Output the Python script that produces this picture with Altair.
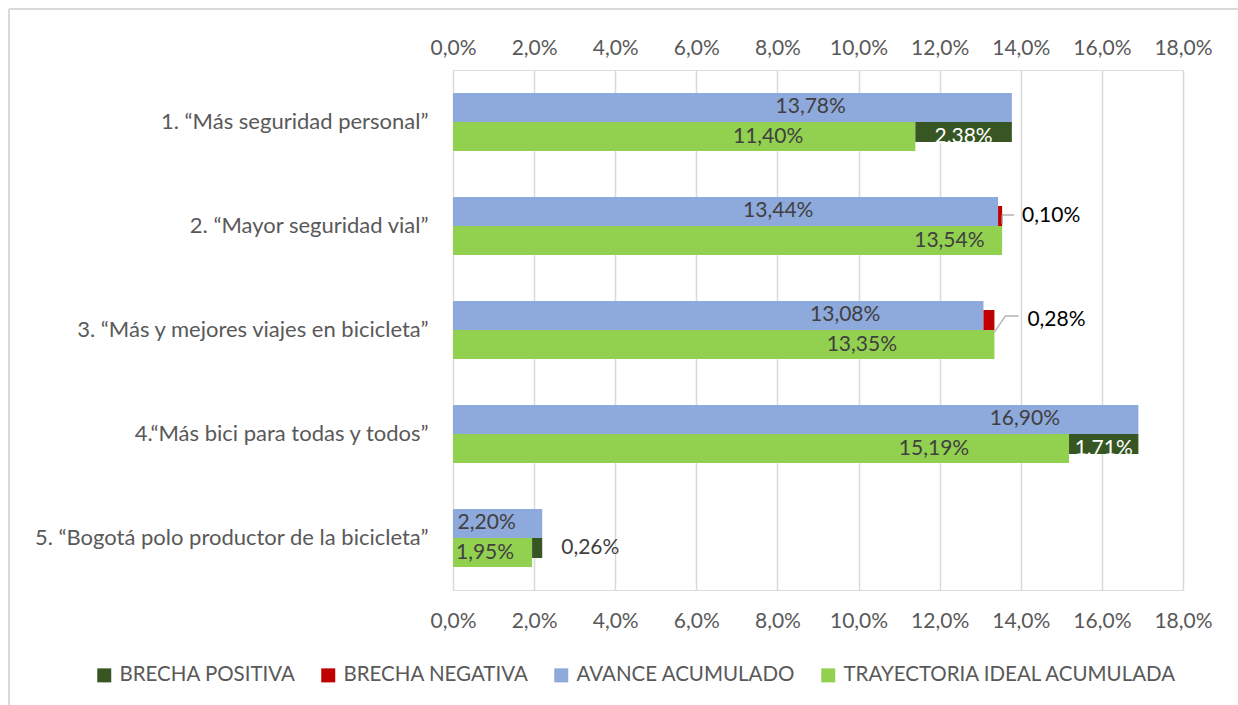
import altair as alt
import numpy as np
import pandas as pd

# ---------------- data ----------------
categorias = [
    "1. “Más seguridad personal”",
    "2. “Mayor seguridad vial”",
    "3. “Más y mejores viajes en bicicleta”",
    "4.“Más bici para todas y todos”",
    "5. “Bogotá polo productor de la bicicleta”",
]
avance = [13.78, 13.44, 13.08, 16.90, 2.20]
ideal = [11.40, 13.54, 13.35, 15.19, 1.95]
brecha = [2.38, -0.10, -0.28, 1.71, 0.26]
# where the value labels of the two bars sit (in % units)
avance_label_x = [8.82, 8.02, 9.67, 14.10, 0.83]
ideal_label_x = [7.77, 12.24, 10.08, 11.86, 0.79]

series = ["BRECHA POSITIVA", "BRECHA NEGATIVA", "AVANCE ACUMULADO", "TRAYECTORIA IDEAL ACUMULADA"]
colores = ["#375623", "#C00000", "#8EA9DB", "#92D050"]
x_ticks = [0, 2, 4, 6, 8, 10, 12, 14, 16, 18]

FONT = "Lato"
AXIS_GRAY = "#595959"
LABEL_GRAY = "#404040"
TXT = 21


def pct(v):
    return f"{abs(v):.2f}".replace(".", ",") + "%"


AV, ID = series[2], series[3]
bars = pd.DataFrame({
    "cat": categorias * 2,
    "serie": [AV] * 5 + [ID] * 5,
    "valor": avance + ideal,
    "lx": avance_label_x + ideal_label_x,
})
bars["txt"] = bars["valor"].map(pct)

gap = pd.DataFrame({"cat": categorias, "a": avance, "i": ideal, "b": brecha})
gap["ini"] = gap[["a", "i"]].min(axis=1)
gap["fin"] = gap[["a", "i"]].max(axis=1)
gap["serie"] = np.where(gap["b"] > 0, series[0], series[1])
gap["slot"] = np.where(gap["b"] > 0, "POS", "NEG")
gap["txt"] = gap["b"].map(pct)
gap["mid"] = (gap["ini"] + gap["fin"]) / 2
gap["serie_bar"] = ID

# ---------------- scales / axes ----------------
x_scale = alt.Scale(domain=[0, 18], nice=False, zero=True)
y_scale = alt.Scale(domain=categorias, paddingInner=0.442, paddingOuter=0.221)
# bar sub-bands (bars) and their centres (texts)
off_bar = alt.Scale(type="band", domain=[AV, ID], paddingInner=0, paddingOuter=0)
off_bar_pt = alt.Scale(type="point", domain=[AV, ID], padding=0.5)
# thinner gap bars sitting on each side of the border between both bars
off_gap = alt.Scale(type="band", domain=["NEG", "POS"], paddingInner=0, paddingOuter=0.45)
off_gap_pt = alt.Scale(type="point", domain=["NEG", "POS"], padding=0.95)
color_scale = alt.Scale(domain=series, range=colores)

lab_expr = "replace(format(datum.value, '.1f'), '.', ',') + '%'"
top_axis = alt.Axis(orient="top", values=x_ticks, labelExpr=lab_expr, grid=True,
                    gridColor="#D9D9D9", gridWidth=1.5, domain=False, ticks=False,
                    labelFontSize=21, labelColor=AXIS_GRAY, labelFont=FONT,
                    labelPadding=12, labelFlush=False, labelOverlap=False, title=None)
bottom_axis = alt.Axis(orient="bottom", values=x_ticks, labelExpr=lab_expr, grid=False,
                       domain=False, ticks=False, labelFontSize=21, labelColor=AXIS_GRAY,
                       labelFont=FONT, labelPadding=20, labelFlush=False,
                       labelOverlap=False, title=None)
y_axis = alt.Axis(domain=False, ticks=False, labelFontSize=22, labelColor=AXIS_GRAY,
                  labelFont=FONT, labelPadding=25, labelLimit=0, title=None)

legend = alt.Legend(orient="none", legendX=-359, legendY=595, direction="horizontal",
                    title=None, symbolType="square", symbolSize=196, symbolStrokeWidth=0,
                    labelFontSize=20.5, labelFont=FONT, labelColor=AXIS_GRAY,
                    labelOffset=5, columnPadding=22, padding=0, labelLimit=0)

Y = alt.Y("cat:N", scale=y_scale, sort=categorias, axis=y_axis)


def X(field):
    return alt.X(field, scale=x_scale, axis=None)


# ---------------- layers ----------------
main_bars = alt.Chart(bars).mark_bar().encode(
    x=alt.X("valor:Q", scale=x_scale, axis=top_axis),
    y=Y,
    yOffset=alt.YOffset("serie:N", scale=off_bar),
    color=alt.Color("serie:N", scale=color_scale, legend=legend),
)

gap_bars = alt.Chart(gap).mark_bar().encode(
    x=alt.X("ini:Q", scale=x_scale, axis=bottom_axis),
    x2="fin:Q",
    y=Y,
    yOffset=alt.YOffset("slot:N", scale=off_gap),
    color=alt.Color("serie:N", scale=color_scale, legend=legend),
)

bar_labels = alt.Chart(bars).mark_text(font=FONT, fontSize=TXT, color=LABEL_GRAY).encode(
    x=X("lx:Q"),
    y=Y,
    yOffset=alt.YOffset("serie:N", scale=off_bar_pt),
    text="txt:N",
)

inside_gap_labels = alt.Chart(gap).transform_filter("datum.b > 1").mark_text(
    font=FONT, fontSize=TXT, color="white").encode(
    x=X("mid:Q"),
    y=Y,
    yOffset=alt.YOffset("serie_bar:N", scale=off_bar_pt),
    text="txt:N",
)

outside_pos = alt.Chart(gap).transform_filter("datum.b > 0 && datum.b < 1").mark_text(
    font=FONT, fontSize=TXT, color=LABEL_GRAY, align="left", dx=19).encode(
    x=X("fin:Q"),
    y=Y,
    yOffset=alt.YOffset("slot:N", scale=off_gap_pt),
    text="txt:N",
)

neg2 = alt.Chart(gap).transform_filter(f"datum.cat == '{categorias[1]}'")
neg3 = alt.Chart(gap).transform_filter(f"datum.cat == '{categorias[2]}'")

lbl2 = neg2.mark_text(font=FONT, fontSize=TXT, color="black", align="left", dx=20).encode(
    x=X("fin:Q"), y=Y,
    yOffset=alt.YOffset("slot:N", scale=off_gap_pt), text="txt:N")
lbl3 = neg3.mark_text(font=FONT, fontSize=TXT, color="black", align="left", dx=33).encode(
    x=X("fin:Q"), y=Y,
    yOffset=alt.YOffset("slot:N", scale=off_gap_pt), text="txt:N")

LEAD = dict(color="#A6A6A6", strokeWidth=1.3)
lead2a = neg2.mark_rule(yOffset=-11, y2Offset=-2, **LEAD).encode(
    x=X("fin:Q"), x2="fin:Q", y=Y, y2="cat:N")
lead2b = neg2.mark_rule(x2Offset=12, yOffset=-11, y2Offset=-11, **LEAD).encode(
    x=X("fin:Q"), x2="fin:Q", y=Y, y2="cat:N")
lead3a = neg3.mark_rule(x2Offset=11, yOffset=2, y2Offset=-14, **LEAD).encode(
    x=X("fin:Q"), x2="fin:Q", y=Y, y2="cat:N")
lead3b = neg3.mark_rule(xOffset=11, x2Offset=24, yOffset=-14, y2Offset=-14, **LEAD).encode(
    x=X("fin:Q"), x2="fin:Q", y=Y, y2="cat:N")

# outer frame (top and left edges visible in the reference)
frame_top = alt.Chart(gap).mark_rule(color="#D9D9D9", strokeWidth=1.5).encode(
    x=alt.value(-444), x2=alt.value(800), y=alt.value(-61))
frame_left = alt.Chart(gap).mark_rule(color="#D9D9D9", strokeWidth=1.5).encode(
    x=alt.value(-444), y=alt.value(-61), y2=alt.value(650))

chart = alt.layer(
    main_bars, gap_bars, bar_labels, inside_gap_labels, outside_pos,
    lbl2, lbl3, lead2a, lead2b, lead3a, lead3b, frame_top, frame_left,
).resolve_scale(yOffset="independent").properties(
    width=730, height=520,
    padding={"left": 453, "top": 70, "right": 55, "bottom": 115},
    autosize="none",
).configure_view(stroke=None).configure(font=FONT)

chart.save("out.html", embed_options={"renderer": "svg", "actions": False})
